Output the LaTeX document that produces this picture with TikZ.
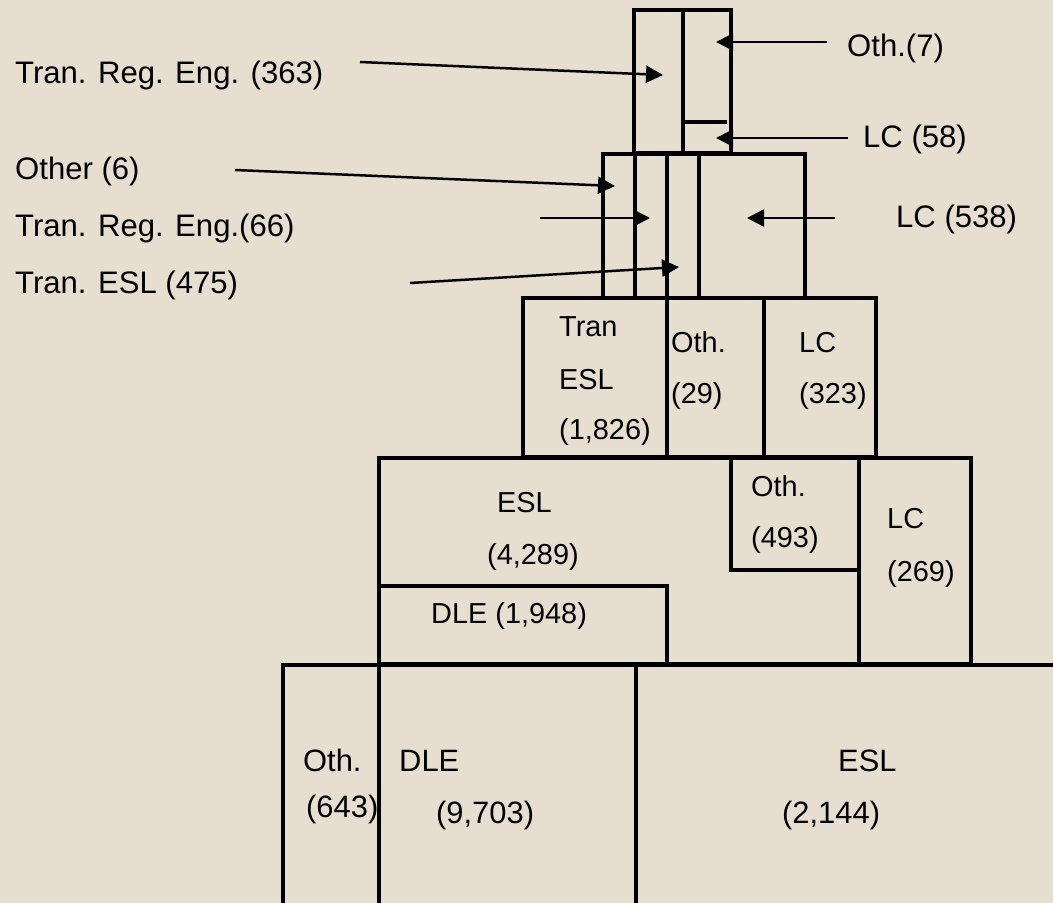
\documentclass[tikz,border=0pt]{standalone}
\usepackage{fontspec}
\setmainfont{Liberation Sans}
\usetikzlibrary{arrows.meta}
\definecolor{bgc}{RGB}{230,222,206}
\tikzset{
  box/.style={line width=3.5bp, line join=miter},
  ptr/.style={line width=2.5bp, -{Triangle[length=17bp,width=17bp]}},
  outl/.style={anchor=base west, inner sep=0pt, font=\fontsize{31.2}{36}\selectfont},
  midl/.style={anchor=base west, inner sep=0pt, font=\fontsize{29}{33}\selectfont},
  botl/.style={anchor=base west, inner sep=0pt, font=\fontsize{31}{35}\selectfont}
}
\begin{document}
\begin{tikzpicture}[x=1bp,y=-1bp]
\useasboundingbox (0,0) rectangle (1053,903);
\fill[bgc] (0,0) rectangle (1053,903);
\clip (0,0) rectangle (1053,903);
% tier 1
\draw[box] (634,10) rectangle (731,153);
\draw[box] (683,10) -- (683,153);
\draw[box] (683,122) -- (727,122);
% tier 2
\draw[box] (603,154) rectangle (805,298);
\draw[box] (635,154) -- (635,298);
\draw[box] (667,154) -- (667,298);
\draw[box] (699,154) -- (699,298);
% tier 3
\draw[box] (523,298) rectangle (876,457);
\draw[box] (667,298) -- (667,457);
\draw[box] (764,298) -- (764,457);
% tier 4
\draw[box] (379,458) rectangle (971,664);
\draw[box] (379,586) -- (667,586) -- (667,664);
\draw[box] (731,458) -- (731,570) -- (859,570);
\draw[box] (859,458) -- (859,664);
% tier 5
\draw[box] (1060,665) -- (283,665) -- (283,910);
\draw[box] (379,665) -- (379,910);
\draw[box] (636,665) -- (636,910);
% labels outside
\node[outl] (l363) at (15,83) {Tran. Reg. Eng. (363)};
\node[outl] (l6) at (15,179) {Other (6)};
\node[outl] (l66) at (15,236) {Tran. Reg. Eng.(66)};
\node[outl] (l475) at (15,293) {Tran. ESL (475)};
\node[outl] (l7) at (847,56) {Oth.(7)};
\node[outl] (l58) at (863,147) {LC (58)};
\node[outl] (l538) at (896,227) {LC (538)};
% arrow coordinates
\coordinate (s363) at (360,62);  \coordinate (e363) at (663,75);
\coordinate (s6) at (235,170);   \coordinate (e6) at (615,186);
\coordinate (s66) at (540,218);  \coordinate (e66) at (650,218);
\coordinate (s475) at (410,283); \coordinate (e475) at (679,267);
\coordinate (s7) at (827,42);    \coordinate (e7) at (716,42);
\coordinate (s58) at (848,138);  \coordinate (e58) at (716,138);
\coordinate (s538) at (835,218); \coordinate (e538) at (747,218);
\draw[ptr] (s363) -- (e363);
\draw[ptr] (s6) -- (e6);
\draw[ptr] (s66) -- (e66);
\draw[ptr] (s475) -- (e475);
\draw[ptr] (s7) -- (e7);
\draw[ptr] (s58) -- (e58);
\draw[ptr] (s538) -- (e538);
% tier 3 labels
\node[midl] (t3a) at (559,336) {Tran};
\node[midl] (t3b) at (559,389) {ESL};
\node[midl] (t3c) at (559,439) {(1,826)};
\node[midl] (t3d) at (671,352) {Oth.};
\node[midl] (t3e) at (671,403) {(29)};
\node[midl] (t3f) at (799,352) {LC};
\node[midl] (t3g) at (799,403) {(323)};
% tier 4 labels
\node[midl] (t4a) at (497,512) {ESL};
\node[midl] (t4b) at (487,564) {(4,289)};
\node[midl] (t4c) at (431,623) {DLE (1,948)};
\node[midl] (t4d) at (751,496) {Oth.};
\node[midl] (t4e) at (751,547) {(493)};
\node[midl] (t4f) at (887,528) {LC};
\node[midl] (t4g) at (887,581) {(269)};
% tier 5 labels
\node[botl] (t5a) at (303,771) {Oth.};
\node[botl] (t5b) at (306,817) {(643)};
\node[botl] (t5c) at (399,771) {DLE};
\node[botl] (t5d) at (436,823) {(9,703)};
\node[botl] (t5e) at (838,771) {ESL};
\node[botl] (t5f) at (782,823) {(2,144)};
\end{tikzpicture}
\end{document}
